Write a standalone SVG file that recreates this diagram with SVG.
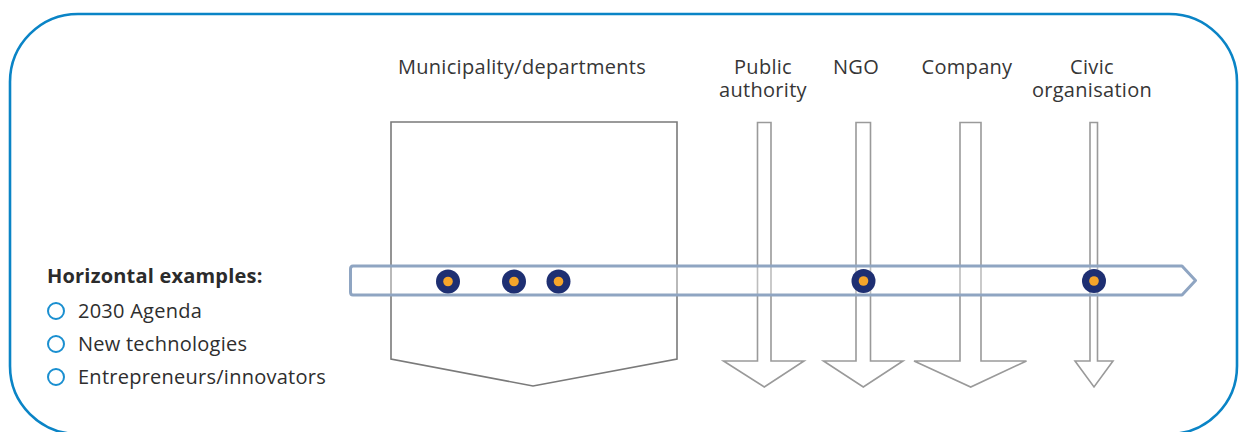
<svg xmlns="http://www.w3.org/2000/svg" width="1242" height="432" viewBox="0 0 1242 432">
<style>
.lbl{font-family:"Open Sans","Liberation Sans",sans-serif;font-size:20px;fill:#363636;text-anchor:middle;letter-spacing:0.3px}
.leg{font-family:"Open Sans","Liberation Sans",sans-serif;font-size:20px;fill:#2e2e2e;letter-spacing:0.25px}
.legb{font-family:"Open Sans","Liberation Sans",sans-serif;font-size:20px;font-weight:bold;fill:#2b2b2b;letter-spacing:0.2px}
.arrow{fill:#fff;stroke:#9a9a9a;stroke-width:1.6}
.box{fill:#fff;stroke:#7a7a7a;stroke-width:1.6}
.bullet{fill:none;stroke:#1a8fd0;stroke-width:2}
.dotO{fill:#1e2f72}
.dotI{fill:#f5a52a}
</style>
<defs>
<g id="dot"><circle r="12" class="dotO"/><circle r="4.8" class="dotI"/></g>
</defs>
<rect id="frame" x="10" y="14" width="1227" height="420" rx="68" ry="68" fill="#fff" stroke="#0a84c6" stroke-width="2.6"/>
<g id="municipality">
<path class="box" d="M391 122 H677 V359 L533 386 L391 359 Z"/>
<text class="lbl" x="522" y="74">Municipality/departments</text>
</g>
<g id="public-authority">
<path class="arrow" d="M757.5 122.5 H771 V361 H804 L764.3 387 L723.5 361 H757.5 Z"/>
<text class="lbl"><tspan x="763" y="74">Public</tspan><tspan x="763" y="96.5">authority</tspan></text>
</g>
<g id="ngo">
<path class="arrow" d="M856 122.5 H870.5 V361 H903 L863.3 387 L823.5 361 H856 Z"/>
<text class="lbl" x="856" y="74">NGO</text>
</g>
<g id="company">
<path class="arrow" d="M960 122.5 H981 V361 H1026.5 L970.7 387 L914 361 H960 Z"/>
<text class="lbl" x="967" y="74">Company</text>
</g>
<g id="civic-organisation">
<path class="arrow" d="M1090 122.5 H1097.5 V361 H1113 L1094 387 L1075 361 H1090 Z"/>
<text class="lbl"><tspan x="1092" y="74">Civic</tspan><tspan x="1092" y="96.5">organisation</tspan></text>
</g>
<g id="connectors">
<path d="M353 266 H1182 L1195.5 280.5 L1182 295 H353 Q350.5 295 350.5 292 V269 Q350.5 266 353 266 Z" fill="#fff" fill-opacity="0.35" stroke="#8fa5c2" stroke-width="3" stroke-linejoin="round"/>
<use href="#dot" x="448" y="281.5"/>
<use href="#dot" x="514" y="281.5"/>
<use href="#dot" x="558.5" y="281.5"/>
<use href="#dot" x="863.5" y="281"/>
<use href="#dot" x="1094" y="281"/>
</g>
<g id="legend">
<text class="legb" x="47" y="283">Horizontal examples:</text>
<circle class="bullet" cx="56" cy="311" r="8"/>
<text class="leg" x="78" y="318">2030 Agenda</text>
<circle class="bullet" cx="56" cy="344" r="8"/>
<text class="leg" x="78" y="351">New technologies</text>
<circle class="bullet" cx="56" cy="377" r="8"/>
<text class="leg" x="78" y="383.5">Entrepreneurs/innovators</text>
</g>
</svg>
